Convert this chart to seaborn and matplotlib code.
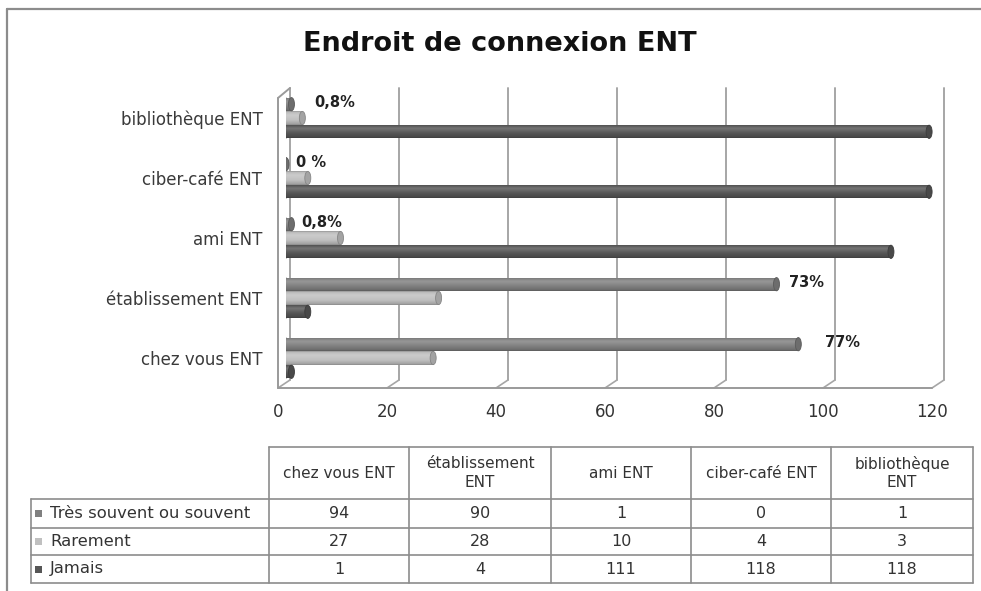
import numpy as np
import pandas as pd
import matplotlib
matplotlib.use("Agg")
import matplotlib.pyplot as plt
import seaborn as sns
from matplotlib.patches import Ellipse, Rectangle
from matplotlib.transforms import ScaledTranslation

# ---------------- data ----------------
categories = ["chez vous ENT", "établissement ENT", "ami ENT", "ciber-café ENT", "bibliothèque ENT"]
header_labels = ["chez vous ENT", "établissement\nENT", "ami ENT", "ciber-café ENT", "bibliothèque\nENT"]
series = ["Très souvent ou souvent", "Rarement", "Jamais"]
tres_souvent = [94, 90, 1, 0, 1]
rarement = [27, 28, 10, 4, 3]
jamais = [1, 4, 111, 118, 118]
pct_labels = ["77%", "73%", "0,8%", "0 %", "0,8%"]
x_ticks = [0, 20, 40, 60, 80, 100, 120]
title = "Endroit de connexion ENT"

# ---------------- style ----------------
colors = {"Très souvent ou souvent": "#808080", "Rarement": "#c0c0c0", "Jamais": "#565656"}
label_offsets_px = [27, 13, 10, 10, 23]
W, H = 981, 591
line_col = "#8c8c8c"
text_col = "#333333"

sns.set_theme(style="white")
plt.rcParams["font.family"] = ["DejaVu Sans"]

df = pd.DataFrame({
    "cat": categories * 3,
    "serie": np.repeat(series, len(categories)),
    "val": tres_souvent + rarement + jamais,
})

fig = plt.figure(figsize=(W / 100, H / 100), dpi=100)

# overlay axes in pixel coordinates (for frame, walls, table)
ov = fig.add_axes([0, 0, 1, 1], zorder=0)
ov.set_xlim(0, W)
ov.set_ylim(0, H)
ov.axis("off")

def Y(y):
    return H - y

x0_px, x1_px, top_px, bot_px = 286, 940, 88, 388
ax = fig.add_axes([x0_px / W, Y(bot_px) / H, (x1_px - x0_px) / W, (bot_px - top_px) / H], zorder=1)
ax.patch.set_visible(False)

sns.barplot(data=df, y="cat", x="val", hue="serie", order=categories[::-1],
            hue_order=series, palette=colors, orient="h", width=0.69, gap=0.04,
            ax=ax, legend=False, linewidth=0, errorbar=None)

ax.set_xlim(0, 120)
ax.set_ylim(len(categories) - 0.5, -0.5)
for s in ax.spines.values():
    s.set_visible(False)
ax.set_xlabel("")
ax.set_ylabel("")
ax.set_xticks(x_ticks)
ax.set_xticklabels([str(t) for t in x_ticks])
ax.tick_params(axis="x", length=0, pad=11, labelsize=12, labelcolor=text_col)
ax.tick_params(axis="y", length=0, pad=17, labelsize=12, labelcolor="#3a3a3a")
shift = ScaledTranslation(-8 / 100, 0, fig.dpi_scale_trans)
for lab in ax.get_xticklabels():
    lab.set_transform(lab.get_transform() + shift)

# cylinder shading
def shade(rgb, f):
    rgb = np.array(rgb[:3])
    if f >= 1:
        return np.clip(rgb + (1 - rgb) * (f - 1), 0, 1)
    return rgb * f

t = np.linspace(0, 1, 40)
prof = np.interp(t, [0, 0.08, 0.3, 0.65, 0.92, 1.0], [0.78, 0.98, 1.18, 1.0, 0.85, 0.72])
unit_px = (x1_px - x0_px) / 120.0
for cont in ax.containers:
    for p in cont:
        x, y, w, h = p.get_x(), p.get_y(), p.get_width(), p.get_height()
        base = p.get_facecolor()
        img = np.array([shade(base, f) for f in prof]).reshape(-1, 1, 3)
        if w > 0:
            im = ax.imshow(img, extent=[x, x + w, y + h, y], aspect="auto",
                           interpolation="bilinear", zorder=p.get_zorder() + 0.1)
            im.set_clip_path(p)
        start = Ellipse((x, y + h / 2), width=6 / unit_px, height=h,
                        facecolor=shade(base, 0.9), edgecolor="none",
                        zorder=p.get_zorder() + 0.05)
        ax.add_patch(start)
        cap = Ellipse((x + w, y + h / 2), width=6 / unit_px, height=h,
                      facecolor=shade(base, 0.85), edgecolor=shade(base, 0.7),
                      linewidth=0.6, zorder=p.get_zorder() + 0.2)
        ax.add_patch(cap)

ax.set_xlim(0, 120)
ax.set_ylim(len(categories) - 0.5, -0.5)

# percentage labels on "Très souvent" bars
order_top = categories[::-1]
for p in ax.containers[0]:
    yc = p.get_y() + p.get_height() / 2
    cat = order_top[int(round(yc))]
    i = categories.index(cat)
    ax.annotate(pct_labels[i], xy=(p.get_width(), yc), xytext=(label_offsets_px[i] * 0.72, 1),
                textcoords="offset points", ha="left", va="center", fontsize=10.5,
                fontweight="bold", color="#222222", zorder=10)

# ---------- 3D walls / gridlines (pixel overlay) ----------
def px_of(v):
    return ax.transData.transform((v, 0))[0]

dxb, dyb, dxf = 4, 8, -8
for v in x_ticks:
    xb = px_of(v) + dxb
    ov.plot([xb, xb], [Y(bot_px - dyb), Y(top_px)], color="#a6a6a6", lw=1.4, zorder=0)
    ov.plot([px_of(v) + dxf, xb], [Y(bot_px), Y(bot_px - dyb)], color="#a6a6a6", lw=1.2, zorder=0)
ov.plot([px_of(0) + dxf, px_of(120) + dxf], [Y(bot_px), Y(bot_px)], color="#9a9a9a", lw=1.4)
xl = px_of(0) + dxf
ov.plot([xl, xl], [Y(bot_px), Y(top_px + 10)], color="#9a9a9a", lw=1.4)
ov.plot([xl, px_of(0) + dxb], [Y(top_px + 10), Y(top_px)], color="#9a9a9a", lw=1.4)

# figure frame (left and top)
ov.plot([7, 7], [Y(9), 0], color=line_col, lw=1.6)
ov.plot([7, W], [Y(9), Y(9)], color=line_col, lw=1.6)

# title
ov.text(500, Y(44), title, ha="center", va="center", fontsize=19.5,
        fontweight="bold", color="#111111")

# ---------------- data table ----------------
col_edges = [269, 409, 551, 691, 831, 973]
lab_left = 31
row_edges = [447, 499, 528, 555, 583]
values = [tres_souvent, rarement, jamais]

tl = dict(color=line_col, lw=1.2)
ov.plot([col_edges[0], col_edges[-1]], [Y(row_edges[0])] * 2, **tl)
for yy in row_edges[1:]:
    ov.plot([lab_left, col_edges[-1]], [Y(yy)] * 2, **tl)
for xx in col_edges:
    ov.plot([xx, xx], [Y(row_edges[0]), Y(row_edges[-1])], **tl)
ov.plot([lab_left, lab_left], [Y(row_edges[1]), Y(row_edges[-1])], **tl)

for j, hl in enumerate(header_labels):
    cx = (col_edges[j] + col_edges[j + 1]) / 2
    cy = (row_edges[0] + row_edges[1]) / 2
    ov.text(cx, Y(cy), hl, ha="center", va="center", fontsize=11,
            color=text_col, linespacing=1.3)

for r, name in enumerate(series):
    cy = (row_edges[r + 1] + row_edges[r + 2]) / 2
    ov.add_patch(Rectangle((35, Y(cy) - 3.5), 7, 7, facecolor=colors[name], edgecolor="none"))
    ov.text(50, Y(cy), name, ha="left", va="center", fontsize=11.8, color=text_col)
    for j, v in enumerate(values[r]):
        cx = (col_edges[j] + col_edges[j + 1]) / 2
        ov.text(cx, Y(cy), str(v), ha="center", va="center", fontsize=11.5, color=text_col)

fig.savefig("out.png", dpi=100)
